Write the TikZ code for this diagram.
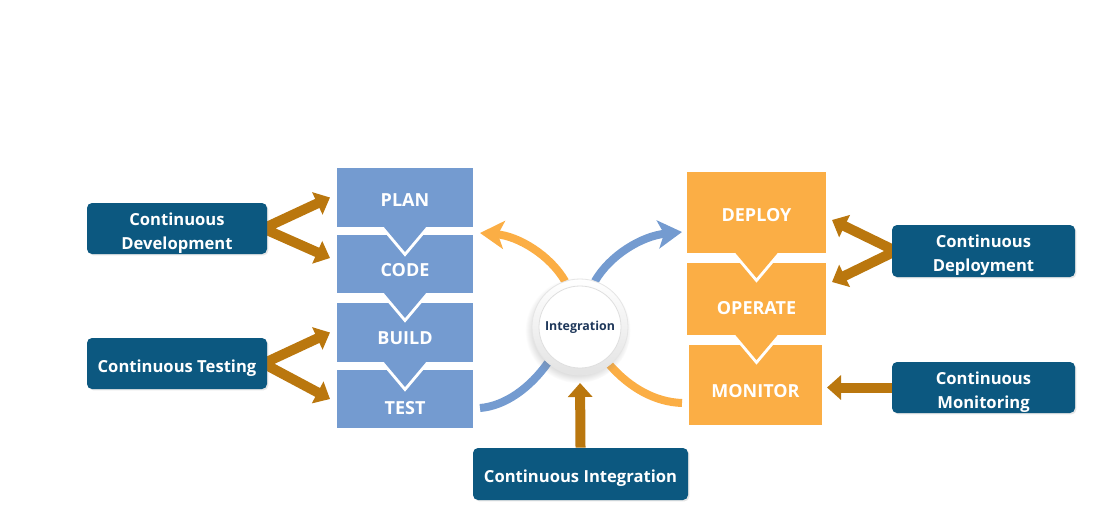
\documentclass[tikz,border=0pt]{standalone}
\usepackage{fontspec}
\setmainfont{Open Sans}
\usetikzlibrary{arrows.meta,shadows}
\definecolor{devblue}{RGB}{116,155,208}
\definecolor{opsorange}{RGB}{251,174,69}
\definecolor{ctteal}{RGB}{12,88,128}
\definecolor{ctbrown}{RGB}{186,119,14}
\definecolor{ctnavy}{RGB}{30,55,90}
\pgfdeclarelayer{back}
\pgfsetlayers{back,main}
\newcommand{\toplift}{\rule{0pt}{10.5pt}}

\begin{document}
\begin{tikzpicture}[x=0.5pt,y=-0.5pt,
    procbox/.style={rectangle, minimum width=68pt, inner sep=0pt, outer sep=0pt,
      text height=8.5pt, text depth=0pt,
      text=white, font=\bfseries\fontsize{9}{10}\selectfont},
    notched/.style={text height=12pt},
    deepnotch/.style={text height=15pt},
    ctbox/.style={rectangle, rounded corners=2.5pt, fill=ctteal, text=white, align=center,
      minimum width=90pt, minimum height=25.5pt, inner sep=0pt,
      font=\bfseries\fontsize{8.3}{12}\selectfont,
      drop shadow={opacity=0.2, shadow xshift=0.7pt, shadow yshift=-0.7pt}},
    feed/.style={ctbrown, line width=5pt, -{Triangle[length=7pt,width=12pt]}},
    feedv/.style={feed, {Triangle[length=7pt,width=12pt]}-{Triangle[length=7pt,width=12pt]}},
    flow/.style={line width=4pt, -{Stealth[length=12pt,width=14pt,inset=3pt]}}
  ]
  \useasboundingbox (0,0) rectangle (1101,514);

  % dev stages
  \node[procbox, fill=devblue, minimum height=29.5pt] (plan) at (405,197.5) {PLAN};
  \node[procbox, notched, fill=devblue, minimum height=29pt] (code) at (405,264) {CODE};
  \node[procbox, notched, fill=devblue, minimum height=29.5pt] (build) at (405,332.5) {BUILD};
  \node[procbox, deepnotch, fill=devblue, minimum height=29pt] (test) at (405,399) {TEST};

  % ops stages
  \node[procbox, fill=opsorange, minimum width=69.5pt, minimum height=40.5pt] (deploy) at (756.5,212.5) {DEPLOY};
  \node[procbox, deepnotch, fill=opsorange, minimum width=69.5pt, minimum height=36pt] (operate) at (756.5,299) {OPERATE};
  \node[procbox, notched, fill=opsorange, minimum width=66.5pt, minimum height=40pt] (monitor) at (755.5,385) {MONITOR};

  % chevrons
  \foreach \s/\c in {plan/devblue, code/devblue, build/devblue, deploy/opsorange, operate/opsorange} {
    \draw[white, line width=3pt] ([xshift=-10.5pt]\s.south) -- ([yshift=-12.5pt]\s.south) -- ([xshift=10.5pt]\s.south);
    \fill[\c] ([shift={(-11.4pt,1pt)}]\s.south) -- ([yshift=-12.5pt]\s.south) -- ([shift={(11.4pt,1pt)}]\s.south) -- cycle;
  }

  % practices
  \node[ctbox] (devbox) at (177,228.5) {\toplift Continuous\\Development};
  \node[ctbox] (testbox) at (177,363.5) {\toplift Continuous Testing};
  \node[ctbox, minimum width=91.5pt, minimum height=26pt] (deploybox) at (983.5,251) {\toplift Continuous\\Deployment};
  \node[ctbox, minimum width=91.5pt] (monbox) at (983.5,387.5) {\toplift Continuous\\Monitoring};
  \node[ctbox, minimum width=107.5pt, minimum height=26pt] (cibox) at (580.5,474) {\toplift Continuous Integration};

  % hub
  \node[circle, minimum size=48pt, inner sep=0pt, outer sep=0pt, top color=white, bottom color=gray!22,
    draw=gray!20, circular drop shadow={opacity=0.25, shadow xshift=-1pt, shadow yshift=-1.5pt}] (integ) at (580,327) {};
  \node[circle, minimum size=41pt, inner sep=0pt, fill=white, draw=gray!25, text=ctnavy,
    font=\bfseries\fontsize{6.2}{8}\selectfont] (integlabel) at (integ) {Integration};

  \coordinate (planin) at (480,233);
  \coordinate (deployin) at (682,232);
  \coordinate (testout) at (480,408);
  \coordinate (monitorout) at (682,403);

  \begin{pgfonlayer}{back}
    \draw[feedv] ([xshift=-3.5pt]plan.west) -- ([xshift=-2pt]devbox.east) -- ([shift={(-7,-6)}]code.west);
    \draw[feedv] ([xshift=-3.5pt]build.west) -- ([xshift=-2pt]testbox.east) -- ([xshift=-3.5pt]test.west);
    \draw[feedv] ([shift={(6,7.5)}]deploy.east) -- ([xshift=2pt]deploybox.west) -- ([shift={(6,-17)}]operate.east);
    \draw[feed, shorten >=2.5pt] (monbox.west) -- (monbox.west -| monitor.east);
    \draw[feed, shorten >=4pt] (cibox.north) -- (integ.south);

    \draw[flow, opsorange] (integ.108) .. controls (550,255) and (518,236) .. (planin);
    \draw[flow, devblue] (integ.72) .. controls (610,255) and (642,236) .. (deployin);
    \draw[devblue, line width=4pt] (integ.228) .. controls (530,388) and (505,406) .. (testout);
    \draw[opsorange, line width=4pt] (integ.-52) .. controls (630,388) and (655,402) .. (monitorout);
  \end{pgfonlayer}
\end{tikzpicture}
\end{document}
